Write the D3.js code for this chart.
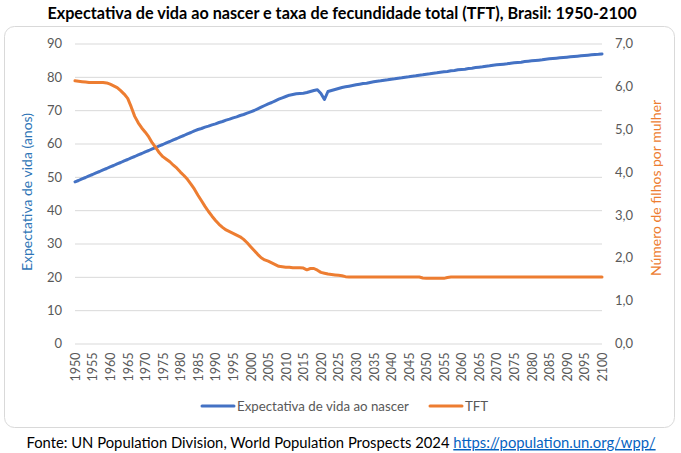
<!DOCTYPE html>
<html>
<head>
<meta charset="utf-8">
<script src="https://cdn.jsdelivr.net/npm/d3@7"></script>
<style>
  body { margin: 0; background: #fff; }
  text { font-family: Lato, "Open Sans", sans-serif; }
</style>
</head>
<body>
<div id="chart"></div>
<script>
// data (UN WPP 2024, Brasil)
let years = d3.range(1950, 2101)
let yearTicks = d3.range(1950, 2101, 5)
let leftTicks = d3.range(0, 91, 10)
let rightTicks = d3.range(0, 8, 1)

let lifeExp = [
  48.5, 48.9, 49.4, 49.8, 50.3, 50.7, 51.2, 51.6, 52.1, 52.5,
  53.0, 53.4, 53.9, 54.3, 54.8, 55.2, 55.7, 56.1, 56.6, 57.0,
  57.5, 57.9, 58.4, 58.8, 59.3, 59.7, 60.2, 60.6, 61.1, 61.5,
  62.0, 62.4, 62.9, 63.3, 63.8, 64.2, 64.5, 64.9, 65.2, 65.6,
  65.9, 66.3, 66.6, 67.0, 67.3, 67.7, 68.0, 68.4, 68.7, 69.1,
  69.5, 69.9, 70.4, 70.9, 71.4, 71.9, 72.3, 72.8, 73.3, 73.7,
  74.1, 74.5, 74.7, 74.9, 75.0, 75.1, 75.3, 75.6, 75.9, 76.1,
  75.0, 73.2, 75.6, 75.9, 76.2, 76.5, 76.8, 77.0, 77.2, 77.4,
  77.6, 77.8, 78.0, 78.1, 78.3, 78.5, 78.7, 78.8, 79.0, 79.1,
  79.3, 79.4, 79.6, 79.7, 79.9, 80.0, 80.2, 80.3, 80.5, 80.6,
  80.8, 80.9, 81.1, 81.2, 81.4, 81.5, 81.6, 81.8, 81.9, 82.1,
  82.2, 82.3, 82.5, 82.6, 82.8, 82.9, 83.0, 83.2, 83.3, 83.5,
  83.6, 83.7, 83.8, 83.9, 84.1, 84.2, 84.3, 84.4, 84.6, 84.7,
  84.8, 84.9, 85.0, 85.1, 85.3, 85.4, 85.5, 85.6, 85.7, 85.8,
  85.9, 86.0, 86.1, 86.2, 86.3, 86.4, 86.5, 86.6, 86.7, 86.75,
  86.85
]

let tft = [
  6.13, 6.12, 6.11, 6.10, 6.09, 6.09, 6.09, 6.09, 6.09, 6.08,
  6.05, 6.01, 5.97, 5.90, 5.82, 5.72, 5.52, 5.30, 5.15, 5.03,
  4.93, 4.82, 4.68, 4.57, 4.45, 4.36, 4.30, 4.24, 4.16, 4.09,
  4.00, 3.92, 3.83, 3.72, 3.60, 3.46, 3.33, 3.20, 3.08, 2.97,
  2.87, 2.78, 2.71, 2.65, 2.61, 2.57, 2.53, 2.49, 2.43, 2.35,
  2.26, 2.17, 2.08, 2.00, 1.95, 1.92, 1.88, 1.84, 1.80, 1.79,
  1.78, 1.78, 1.77, 1.77, 1.77, 1.76, 1.72, 1.75, 1.75, 1.71,
  1.66, 1.64, 1.62, 1.61, 1.60, 1.59, 1.58, 1.56, 1.55, 1.55,
  1.55, 1.55, 1.55, 1.55, 1.55, 1.55, 1.55, 1.55, 1.55, 1.55,
  1.55, 1.55, 1.55, 1.55, 1.55, 1.55, 1.55, 1.55, 1.55, 1.53,
  1.52, 1.52, 1.52, 1.52, 1.52, 1.52, 1.54, 1.55, 1.55, 1.55,
  1.55, 1.55, 1.55, 1.55, 1.55, 1.55, 1.55, 1.55, 1.55, 1.55,
  1.55, 1.55, 1.55, 1.55, 1.55, 1.55, 1.55, 1.55, 1.55, 1.55,
  1.55, 1.55, 1.55, 1.55, 1.55, 1.55, 1.55, 1.55, 1.55, 1.55,
  1.55, 1.55, 1.55, 1.55, 1.55, 1.55, 1.55, 1.55, 1.55, 1.55,
  1.55
]

let width = 681
let height = 453
let plot = {left: 75, right: 602, top: 43.5, bottom: 343.5}

let blue = '#4472C4'
let orange = '#ED7D31'
let grey = '#595959'

let svg = d3.select('div#chart')
  .append('svg')
    .attr('width', width)
    .attr('height', height)

// chart frame
svg.append('rect')
  .attr('x', 4.5)
  .attr('y', 26.5)
  .attr('width', 670)
  .attr('height', 401)
  .attr('rx', 10)
  .attr('fill', 'white')
  .attr('stroke', '#d9d9d9')

let x = d3.scaleLinear().domain([1950, 2100]).range([plot.left, plot.right])
let yL = d3.scaleLinear().domain([0, 90]).range([plot.bottom, plot.top])
let yR = d3.scaleLinear().domain([0, 7]).range([plot.bottom, plot.top])

// gridlines
svg.append('g')
  .attr('transform', `translate(${plot.left},0)`)
  .call(d3.axisLeft(yL).tickValues(leftTicks).tickSize(-(plot.right - plot.left)).tickFormat(''))
  .call(g => g.select('.domain').remove())
  .selectAll('line')
    .attr('stroke', '#d9d9d9')

// left axis
svg.append('g')
  .attr('transform', `translate(${plot.left},0)`)
  .call(d3.axisLeft(yL).tickValues(leftTicks).tickSize(0).tickPadding(13))
  .call(g => g.select('.domain').remove())
  .selectAll('text')
    .attr('fill', grey)
    .style('font-size', '13px')

// right axis
svg.append('g')
  .attr('transform', `translate(${plot.right},0)`)
  .call(d3.axisRight(yR).tickValues(rightTicks).tickSize(0).tickPadding(13)
    .tickFormat(d => d3.format('.1f')(d).replace('.', ',')))
  .call(g => g.select('.domain').remove())
  .selectAll('text')
    .attr('fill', grey)
    .style('font-size', '13px')

// x axis, rotated year labels
svg.append('g')
  .attr('transform', `translate(0,${plot.bottom})`)
  .call(d3.axisBottom(x).tickValues(yearTicks).tickSize(0).tickFormat(d3.format('d')))
  .call(g => g.select('.domain').remove())
  .selectAll('text')
    .attr('fill', grey)
    .style('font-size', '12.5px')
    .attr('text-anchor', 'end')
    .attr('transform', 'rotate(-90)')
    .attr('x', -9)
    .attr('y', 0)
    .attr('dy', '0.35em')

let lineL = d3.line().x((d, i) => x(years[i])).y(d => yL(d))
let lineR = d3.line().x((d, i) => x(years[i])).y(d => yR(d))

svg.append('path')
  .datum(lifeExp)
  .attr('d', lineL)
  .attr('fill', 'none')
  .attr('stroke', blue)
  .attr('stroke-width', 3)
  .attr('stroke-linejoin', 'round')
  .attr('stroke-linecap', 'round')

svg.append('path')
  .datum(tft)
  .attr('d', lineR)
  .attr('fill', 'none')
  .attr('stroke', orange)
  .attr('stroke-width', 3)
  .attr('stroke-linejoin', 'round')
  .attr('stroke-linecap', 'round')

// title
svg.append('text')
  .attr('x', 342)
  .attr('y', 19)
  .attr('text-anchor', 'middle')
  .style('font-size', '16.2px')
  .style('font-weight', 'bold')
  .attr('fill', '#000')
  .text('Expectativa de vida ao nascer e taxa de fecundidade total (TFT), Brasil: 1950-2100')

// axis titles
svg.append('text')
  .attr('transform', 'translate(32,192) rotate(-90)')
  .attr('text-anchor', 'middle')
  .style('font-size', '14px')
  .attr('fill', '#2E75B6')
  .text('Expectativa de vida (anos)')

svg.append('text')
  .attr('transform', 'translate(661,188) rotate(-90)')
  .attr('text-anchor', 'middle')
  .style('font-size', '14px')
  .attr('fill', orange)
  .text('Número de filhos por mulher')

// legend
let legend = [
  {name: 'Expectativa de vida ao nascer', color: blue, x: 202},
  {name: 'TFT', color: orange, x: 430}
]

let lg = svg.append('g')
lg.selectAll('line')
  .data(legend)
  .enter().append('line')
  .attr('x1', d => d.x)
  .attr('x2', d => d.x + 32)
  .attr('y1', 406)
  .attr('y2', 406)
  .attr('stroke', d => d.color)
  .attr('stroke-width', 3)
  .attr('stroke-linecap', 'round')

lg.selectAll('text')
  .data(legend)
  .enter().append('text')
  .attr('x', d => d.x + 35)
  .attr('y', 406)
  .attr('dy', '0.35em')
  .style('font-size', '13.3px')
  .attr('fill', grey)
  .text(d => d.name)

// source line
let src = svg.append('text')
  .attr('x', 341)
  .attr('y', 448)
  .attr('text-anchor', 'middle')
  .style('font-size', '14.8px')
  .attr('fill', '#000')
src.append('tspan').text('Fonte: UN Population Division, World Population Prospects 2024 ')
src.append('tspan')
  .attr('fill', '#0563C1')
  .attr('text-decoration', 'underline')
  .text('https://population.un.org/wpp/')
</script>
</body>
</html>
